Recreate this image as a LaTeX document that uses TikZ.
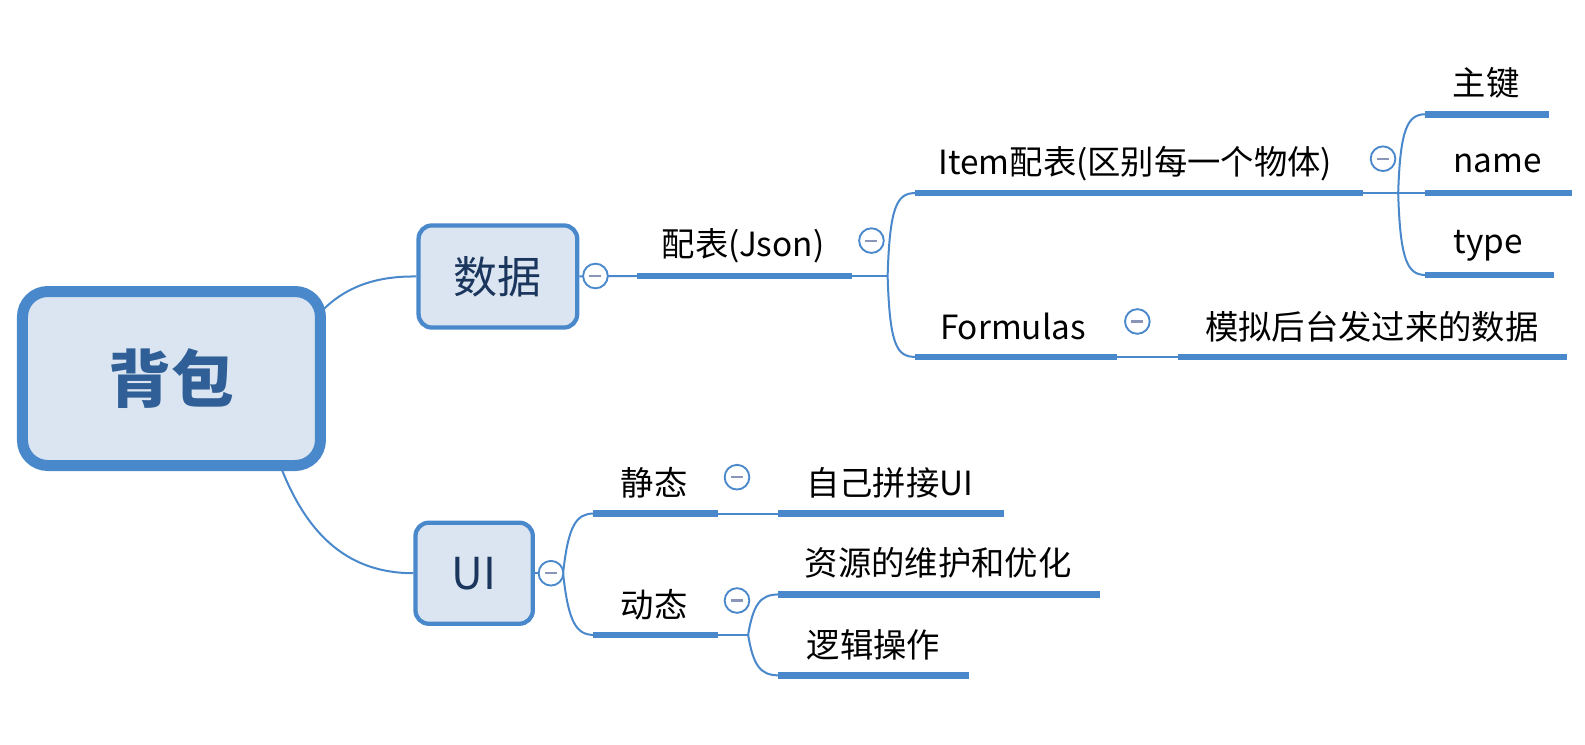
\documentclass[tikz,border=0pt]{standalone}
\usepackage{fontspec}
\setmainfont{Noto Sans CJK SC}
\definecolor{mblue}{HTML}{4A88CC}
\definecolor{boxfill}{HTML}{DBE5F1}
\definecolor{navy}{HTML}{1B365D}
\definecolor{rootText}{HTML}{2F5F96}
\definecolor{dashc}{HTML}{8A96B8}
\tikzset{
  uline/.style={mblue, line width=5pt},
  conn/.style={mblue, line width=1.5pt},
  lbl/.style={font=\fontsize{25}{29}\selectfont, text=black, inner sep=0pt},
  fold/.style={circle, draw=mblue, fill=white, line width=1.4pt, minimum size=18.5pt, inner sep=0pt,
    path picture={\draw[dashc, line width=1.6pt] ([xshift=-4.5pt]path picture bounding box.center) -- ([xshift=4.5pt]path picture bounding box.center);}},
  rootbox/.style={draw=mblue, fill=boxfill, line width=8.25pt, rounded corners=19pt,
    minimum width=223.5pt, minimum height=130.5pt, text=rootText, font=\fontsize{47}{52}\selectfont\bfseries},
  subbox/.style={draw=mblue, fill=boxfill, line width=3.2pt, rounded corners=10pt,
    text=navy, font=\fontsize{33}{37}\selectfont},
}
\begin{document}
\begin{tikzpicture}[x=0.7583pt, y=-0.7583pt]
\useasboundingbox (0,0) rectangle (1567.8,736.9);
\fill[white] (0,0) rectangle (1567.8,736.9);

% main boxes
\node[rootbox] (root) at (169.6,374.4) {背包};
\node[subbox, minimum width=119pt, minimum height=76.6pt] (data) at (492.5,273.5) {数据};
\node[subbox, minimum width=88pt, minimum height=75.8pt] (ui) at (469,567) {UI};

% coordinates
\coordinate (rootA) at (321,305);
\coordinate (rootB) at (279,465);

\coordinate (jsonL) at (630,273);  \coordinate (jsonR) at (843,273);
\coordinate (jsonF) at (878,273);
\coordinate (itemL) at (905,191);  \coordinate (itemR) at (1348,191);
\coordinate (itemF) at (1383,191);
\coordinate (formL) at (905,353);  \coordinate (formR) at (1105,353);
\coordinate (simL) at (1165,353);  \coordinate (simR) at (1550,353);
\coordinate (keyL) at (1410,113);  \coordinate (keyR) at (1532,113);
\coordinate (nameL) at (1410,191); \coordinate (nameR) at (1555,191);
\coordinate (typeL) at (1410,272); \coordinate (typeR) at (1537,272);

\coordinate (uiF) at (557,567);
\coordinate (jtL) at (587,508);  \coordinate (jtR) at (710,508);
\coordinate (zjL) at (770,508);  \coordinate (zjR) at (993,508);
\coordinate (dtL) at (587,628);  \coordinate (dtR) at (710,628);
\coordinate (dtF) at (740,628);
\coordinate (zyL) at (770,588);  \coordinate (zyR) at (1088,588);
\coordinate (ljL) at (770,668);  \coordinate (ljR) at (958,668);

% root connectors
\draw[conn] (rootA) .. controls (345,282) and (375,273) .. (data.west);
\draw[conn] (rootB) .. controls (305,530) and (345,567) .. (ui.west);

% data branch
\draw[conn] (data.east) -- (jsonL);
\draw[conn] (jsonR) -- (jsonF);
\draw[conn] (jsonF) .. controls (880,205) and (887,191) .. (itemL);
\draw[conn] (jsonF) .. controls (880,341) and (887,353) .. (formL);
\draw[conn] (itemR) -- (itemF) -- (nameL);
\draw[conn] (itemF) .. controls (1385,128) and (1392,113) .. (keyL);
\draw[conn] (itemF) .. controls (1385,257) and (1392,272) .. (typeL);
\draw[conn] (formR) -- (simL);

% ui branch
\draw[conn] (ui.east) -- (uiF);
\draw[conn] (uiF) .. controls (562,520) and (570,508) .. (jtL);
\draw[conn] (uiF) .. controls (562,615) and (570,628) .. (dtL);
\draw[conn] (jtR) -- (zjL);
\draw[conn] (dtR) -- (dtF);
\draw[conn] (dtF) .. controls (745,598) and (752,588) .. (zyL);
\draw[conn] (dtF) .. controls (745,658) and (752,668) .. (ljL);

% underlines
\foreach \a/\b in {jsonL/jsonR, itemL/itemR, formL/formR, simL/simR, keyL/keyR, nameL/nameR, typeL/typeR, jtL/jtR, zjL/zjR, dtL/dtR, zyL/zyR, ljL/ljR}
  \draw[uline] (\a) -- (\b);

% labels
\node[lbl] (json) at (735,243) {配表(Json)};
\node[lbl] (item) at (1123,162) {Item配表(区别每一个物体)};
\node[lbl] (form) at (1002,323) {Formulas};
\node[lbl] (sim) at (1357,323) {模拟后台发过来的数据};
\node[lbl] (key) at (1470,82) {主键};
\node[lbl] (name) at (1481,162) {name};
\node[lbl] (type) at (1472,243) {type};
\node[lbl] (jt) at (647,478) {静态};
\node[lbl] (zj) at (880,478) {自己拼接UI};
\node[lbl] (dt) at (647,598) {动态};
\node[lbl] (zy) at (928,557) {资源的维护和优化};
\node[lbl] (lj) at (864,638) {逻辑操作};

% fold markers
\node[fold] (f1) at (589,273) {};
\node[fold] (f2) at (862,238) {};
\node[fold] (f3) at (1368,157) {};
\node[fold] (f4) at (1125,318) {};
\node[fold] (f5) at (545,567) {};
\node[fold] (f6) at (729,472) {};
\node[fold] (f7) at (729,594) {};
\end{tikzpicture}
\end{document}
